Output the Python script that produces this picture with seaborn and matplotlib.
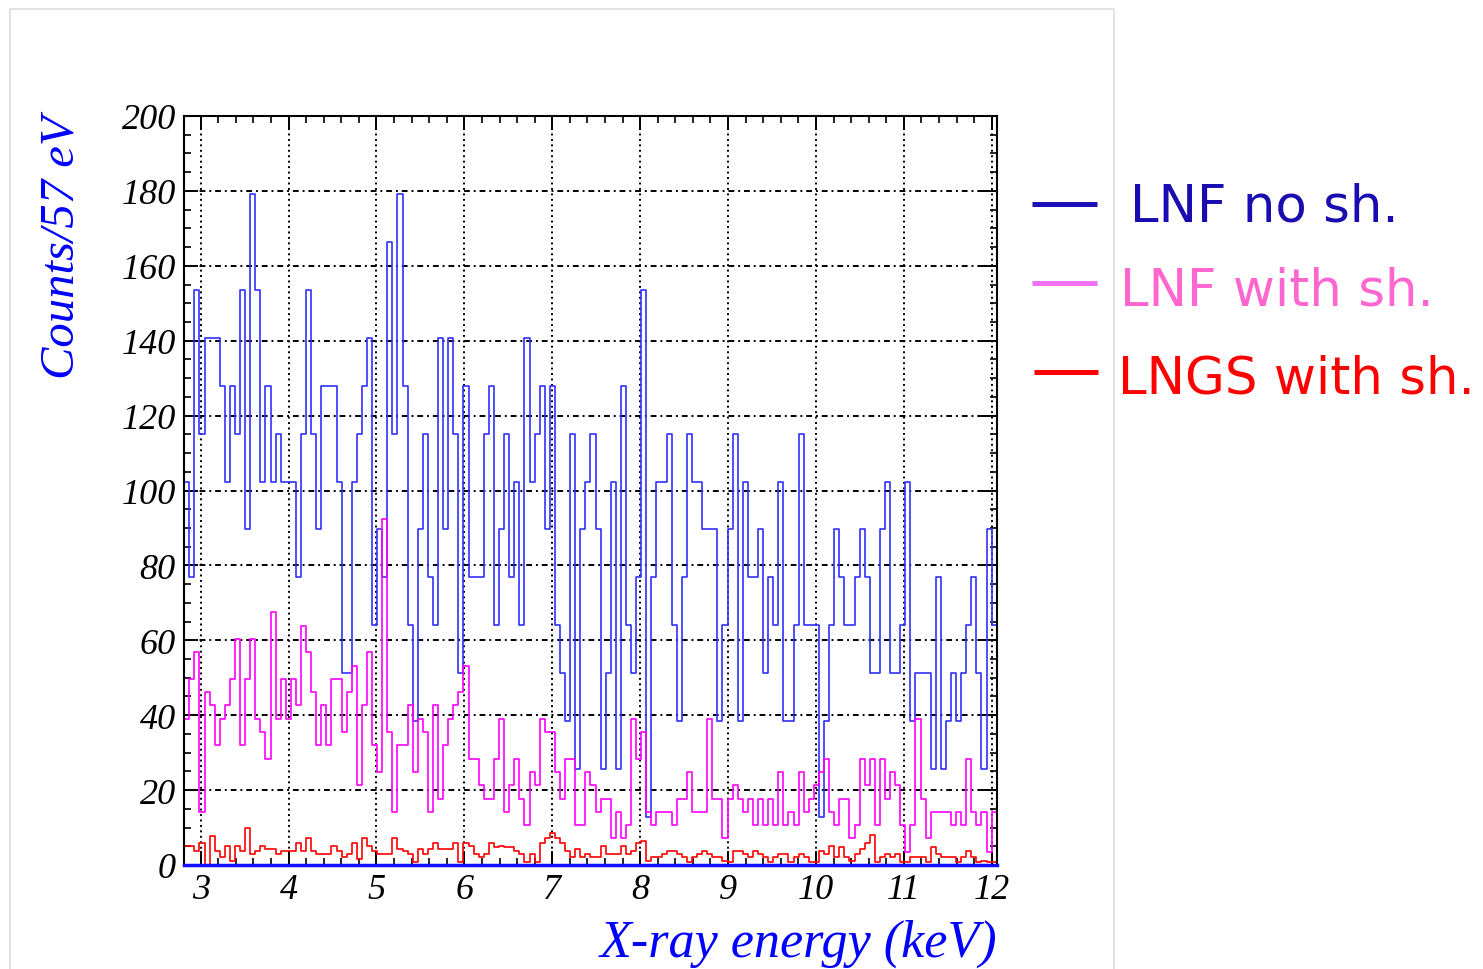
import numpy as np
import pandas as pd
import matplotlib
matplotlib.use("Agg")
import matplotlib.pyplot as plt
from matplotlib.lines import Line2D
from matplotlib.patches import Rectangle
from matplotlib.ticker import MultipleLocator
import seaborn as sns

# ---------------- data ----------------
E_START = 2.812          # keV, lower edge of first bin
BIN_WIDTH = 0.05778      # keV
N_BINS = 160

# LNF without shielding: raw counts per bin, normalisation 12.8 per count
lnf_no_sh_counts = [
    8, 6, 12, 9, 11, 11, 11, 10, 8, 10,
    9, 12, 7, 14, 12, 8, 10, 8, 9, 8,
    8, 8, 6, 9, 12, 9, 7, 10, 10, 10,
    8, 4, 4, 8, 9, 10, 11, 5, 7, 6,
    13, 9, 14, 10, 5, 3, 7, 9, 6, 5,
    11, 7, 11, 9, 4, 10, 6, 6, 6, 9,
    10, 5, 7, 9, 6, 8, 5, 11, 8, 9,
    10, 7, 10, 5, 4, 3, 9, 2, 7, 8,
    9, 7, 2, 4, 8, 2, 10, 5, 4, 6,
    12, 1, 6, 8, 8, 9, 5, 3, 6, 9,
    8, 8, 7, 7, 7, 3, 5, 7, 9, 3,
    8, 6, 6, 7, 4, 6, 5, 8, 3, 3,
    5, 9, 5, 5, 5, 1, 3, 5, 7, 6,
    5, 5, 6, 7, 6, 4, 4, 7, 8, 4,
    4, 5, 8, 3, 4, 4, 4, 2, 6, 2,
    3, 4, 3, 4, 5, 6, 4, 2, 7, 5,
]
LNF_NO_SH_NORM = 12.8

# LNF with shielding: raw counts per bin, normalisation 3.55 per count
lnf_with_sh_counts = [
    11, 14, 16, 4, 13, 12, 9, 11, 12, 14,
    17, 9, 14, 17, 11, 10, 8, 19, 11, 14,
    11, 14, 12, 18, 16, 13, 9, 12, 9, 14,
    14, 10, 13, 15, 6, 12, 16, 9, 7, 26,
    10, 4, 9, 9, 12, 7, 11, 10, 4, 12,
    5, 9, 11, 12, 13, 15, 8, 8, 6, 5,
    5, 8, 11, 4, 6, 8, 5, 3, 7, 6,
    11, 10, 10, 7, 5, 8, 8, 3, 3, 7,
    6, 4, 5, 5, 2, 4, 2, 3, 11, 8,
    10, 4, 3, 4, 4, 4, 3, 5, 5, 7,
    4, 4, 4, 11, 5, 5, 2, 5, 6, 5,
    4, 5, 3, 5, 3, 5, 3, 7, 3, 4,
    3, 7, 4, 5, 6, 7, 8, 4, 3, 5,
    5, 2, 3, 8, 6, 8, 3, 8, 5, 7,
    6, 3, 1, 3, 11, 5, 2, 4, 4, 4,
    4, 3, 4, 3, 8, 4, 3, 4, 1, 4,
]
LNF_WITH_SH_NORM = 3.55

# LNGS with shielding: counts / 57 eV
lngs_with_sh = [
    5.2, 5.2, 3.8, 6.0, 0.0, 7.8, 3.8, 2.2, 5.2, 1.0,
    5.2, 3.8, 10.0, 2.9, 3.8, 5.2, 4.3, 4.3, 2.9, 3.8,
    3.8, 3.8, 6.0, 3.8, 7.1, 3.8, 2.9, 2.9, 2.9, 5.0,
    3.8, 2.2,
    2.9, 6.0, 1.6, 7.1, 5.2, 3.8, 3.0, 3.0, 3.0, 7.1,
    4.3, 3.8, 2.9, 0.7, 4.3, 2.9, 4.3, 6.0, 4.3, 4.3,
    4.3, 6.0, 0.7, 6.0, 5.2, 2.9, 2.2, 2.9, 6.0, 4.7,
    5.2, 4.7,
    4.9, 3.8, 2.9, 0.7, 2.9, 0.7, 6.0, 7.1, 8.5, 7.1,
    6.0, 3.8, 2.2, 4.3, 2.2, 2.9, 2.2, 2.2, 5.0, 2.9,
    2.9, 2.9, 5.0, 2.9, 3.8, 6.0, 6.5, 1.0, 2.2, 2.2,
    2.9, 3.8,
    3.8, 2.9, 2.2, 0.7, 2.2, 2.9, 3.8, 2.9, 2.2, 2.2,
    1.0, 0.7, 3.8, 3.8, 2.9, 2.2, 3.8, 2.9, 2.2, 0.7,
    2.2, 2.9, 2.9, 0.7, 2.2, 2.9, 2.2, 0.7, 0.7, 3.8,
    2.9, 5.0,
    2.2, 4.7, 2.2, 1.0, 2.9, 4.3, 6.0, 8.0, 0.7, 2.2,
    2.9, 2.2, 2.9, 0.7, 0.7, 2.2, 2.2, 2.2, 0.7, 4.7,
    2.9, 2.2, 2.2, 2.2, 0.7, 2.2, 3.8, 2.2, 0.7, 1.0,
    0.7, 0.7,
]

series_labels = ["LNF no sh.", "LNF with sh.", "LNGS with sh."]
x_ticks = [3, 4, 5, 6, 7, 8, 9, 10, 11, 12]
y_ticks = [0, 20, 40, 60, 80, 100, 120, 140, 160, 180, 200]
x_label = "X-ray energy (keV)"
y_label = "Counts/57 eV"

# ---------------- styling ----------------
W, H = 1483, 970
hist_colors = ["#3030ff", "#ff00ff", "#ff0000"]
legend_line_colors = ["#1c10b8", "#f070f8", "#ff0000"]
legend_text_colors = ["#1a0cb0", "#ff66d0", "#ff0000"]

sns.set_style("ticks")
serif = ["Liberation Serif", "DejaVu Serif"]
sans = ["DejaVu Sans"]
plt.rcParams["font.family"] = sans

edges = E_START + BIN_WIDTH * np.arange(N_BINS + 1)
centers = 0.5 * (edges[:-1] + edges[1:])
series_values = [
    np.array(lnf_no_sh_counts, dtype=float) * LNF_NO_SH_NORM,
    np.array(lnf_with_sh_counts, dtype=float) * LNF_WITH_SH_NORM,
    np.array(lngs_with_sh, dtype=float),
]

fig = plt.figure(figsize=(W / 100, H / 100), dpi=100)
fig.patch.set_facecolor("white")
ax_l, ax_r, ax_t, ax_b = 184.2, 996.7, 117, 866
ax = fig.add_axes([ax_l / W, 1 - ax_b / H, (ax_r - ax_l) / W, (ax_b - ax_t) / H])
ax.set_facecolor("white")

for vals, col in zip(series_values, hist_colors):
    d = pd.DataFrame({"energy": centers, "w": vals})
    sns.histplot(data=d, x="energy", weights="w",
                 binwidth=BIN_WIDTH, binrange=(float(edges[0]), float(edges[-1])),
                 element="step", fill=False, color=col, linewidth=1.2, ax=ax)

ax.set_xlim(edges[0], edges[-1])
ax.set_ylim(0, 200)
ax.set_xlabel("")
ax.set_ylabel("")

ax.set_xticks(x_ticks, labels=[str(t) for t in x_ticks],
              fontfamily=serif, fontstyle="italic", fontsize=26)
ax.set_yticks(y_ticks, labels=[str(t) for t in y_ticks],
              fontfamily=serif, fontstyle="italic", fontsize=26)
ax.xaxis.set_minor_locator(MultipleLocator(0.2))
ax.yaxis.set_minor_locator(MultipleLocator(5))
ax.tick_params(which="both", direction="in", top=True, right=True, colors="black")
ax.tick_params(which="major", length=10, width=1.4, pad=6)
ax.tick_params(which="minor", length=5, width=1.2)

ax.xaxis.grid(True, which="major", color="black", linestyle=(0, (1.0, 1.8)), linewidth=1.4)
ax.yaxis.grid(True, which="major", color="black", linestyle=(0, (3, 2, 1, 2)), linewidth=1.4)
ax.set_axisbelow(True)

for s in ["left", "right", "top"]:
    ax.spines[s].set_color("black")
    ax.spines[s].set_linewidth(1.5)
ax.spines["bottom"].set_color("#1010ff")
ax.spines["bottom"].set_linewidth(2.5)

# axis titles
fig.text(62 / W, 1 - 115 / H, y_label, rotation=90, ha="center", va="top",
         color="#0000ff", fontsize=35, family=serif, style="italic")
fig.text(997 / W, 1 - 957 / H, x_label, ha="right", va="baseline",
         color="#0000ff", fontsize=37.5, family=serif, style="italic")

# panel frame
fig.add_artist(Rectangle((10 / W, -0.05), 1104 / W, (1 - 10 / H) + 0.05,
                         transform=fig.transFigure, fill=False,
                         edgecolor="#e3e3e3", linewidth=1.5))

# legend
leg_line_y = [205, 284, 373]
leg_line_x = [(1032, 1097), (1032, 1097), (1034, 1098)]
leg_text_x = [1130, 1120, 1118]
leg_text_base = [222, 305, 393]
for i, lab in enumerate(series_labels):
    x0, x1 = leg_line_x[i]
    fig.add_artist(Line2D([x0 / W, x1 / W], [1 - leg_line_y[i] / H] * 2,
                          transform=fig.transFigure, color=legend_line_colors[i],
                          linewidth=3.6, solid_capstyle="butt"))
    fig.text(leg_text_x[i] / W, 1 - leg_text_base[i] / H, lab, ha="left",
             va="baseline", color=legend_text_colors[i], fontsize=37, family=sans)

fig.savefig("out.png", dpi=100, facecolor="white")
